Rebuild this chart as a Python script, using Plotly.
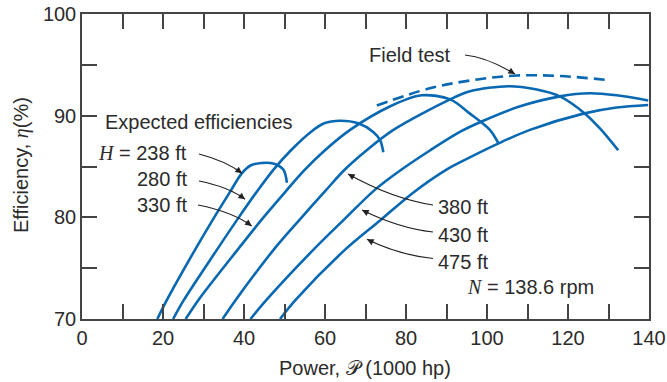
import math
import plotly.graph_objects as go

# ---------------- data ----------------
power_238 = [18.6, 21.0, 27.9, 32.2, 36.7, 39.4, 41.6, 44.4, 47.2, 49.7, 50.6]
eff_238   = [70.0, 71.9, 76.8, 79.7, 82.6, 84.3, 85.1, 85.35, 85.3, 84.7, 83.4]

power_280 = [22.5, 25.2, 33.3, 38.2, 43.3, 47.3, 51.6, 56.5, 59.8, 63.7, 68.2, 71.9, 73.6, 74.4]
eff_280   = [70.0, 71.9, 76.8, 79.7, 82.6, 84.7, 86.6, 88.4, 89.25, 89.5, 89.25, 88.4, 87.6, 86.4]

power_330 = [25.6, 28.8, 38.4, 44.2, 50.4, 54.8, 60.0, 66.2, 76.0, 83.8, 90.9, 95.8, 100.7, 102.8]
eff_330   = [70.0, 71.9, 76.8, 79.7, 82.6, 84.6, 86.6, 88.6, 90.9, 92.0, 91.6, 90.2, 88.6, 87.3]

power_380 = [34.7, 38.0, 47.3, 53.6, 60.3, 64.9, 70.3, 76.9, 90.9, 95.8, 105.3, 112.0, 118.0, 124.2, 128.0, 132.4]
eff_380   = [70.0, 71.9, 76.8, 79.7, 82.7, 84.7, 86.6, 88.6, 91.6, 92.4, 92.9, 92.6, 91.9, 90.2, 88.7, 86.6]

power_430 = [41.6, 45.6, 57.1, 64.5, 72.3, 78.9, 86.0, 93.3, 99.1, 108.0, 118.0, 125.4, 132.0, 139.8]
eff_430   = [70.0, 71.9, 76.8, 79.7, 82.7, 84.7, 86.6, 88.4, 89.5, 90.9, 91.9, 92.2, 92.0, 91.5]

power_475 = [48.9, 52.8, 64.9, 73.6, 82.0, 90.0, 93.3, 103.0, 110.6, 123.8, 132.0, 139.8]
eff_475   = [70.0, 71.9, 76.8, 79.7, 82.5, 84.7, 85.4, 87.3, 88.6, 90.2, 90.8, 91.05]

power_field = [72.8, 85.9, 96.6, 107.3, 118.0, 130.0]
eff_field   = [91.0, 92.7, 93.5, 93.95, 93.9, 93.5]

x_ticks = [0, 10, 20, 30, 40, 50, 60, 70, 80, 90, 100, 110, 120, 130, 140]
x_tick_labels = ["0", "", "20", "", "40", "", "60", "", "80", "", "100", "", "120", "", "140"]
y_ticks = [70, 75, 80, 85, 90, 95, 100]
y_tick_labels = ["70", "", "80", "", "90", "", "100"]

series = [
    (power_238, eff_238),
    (power_280, eff_280),
    (power_330, eff_330),
    (power_380, eff_380),
    (power_430, eff_430),
    (power_475, eff_475),
]

# ---------------- figure ----------------
W, H = 667, 382
L, R, T, B = 82, 18, 14, 63
PL, PR, PT, PB = L, W - R, T, H - B
XMIN, XMAX, YMIN, YMAX = 0, 140, 70, 100

def dx(px):
    return XMIN + (px - PL) / (PR - PL) * (XMAX - XMIN)

def dy(py):
    return YMAX - (py - PT) / (PB - PT) * (YMAX - YMIN)

BLUE = "#0868b2"
TXT = "#2b2b2b"
FONT = "Liberation Sans, Arial, sans-serif"

fig = go.Figure()
for xs, ys in series:
    fig.add_trace(go.Scatter(x=xs, y=ys, mode="lines",
                             line=dict(color=BLUE, width=2.6, shape="spline", smoothing=0.9),
                             showlegend=False, hoverinfo="skip"))
fig.add_trace(go.Scatter(x=power_field, y=eff_field, mode="lines",
                         line=dict(color=BLUE, width=2.6, shape="spline", smoothing=1.0,
                                   dash="11px,6px"),
                         showlegend=False, hoverinfo="skip"))

annotations = []
shapes = []

def text_at(px, py, txt, xanchor="center"):
    annotations.append(dict(x=dx(px), y=dy(py), xref="x", yref="y", text=txt,
                            showarrow=False, xanchor=xanchor, yanchor="middle",
                            font=dict(family=FONT, size=20, color=TXT)))

def curved_arrow(x0, y0, cx, cy, x1, y1):
    shapes.append(dict(type="path", xref="x", yref="y",
                       path=f"M {dx(x0)},{dy(y0)} Q {dx(cx)},{dy(cy)} {dx(x1)},{dy(y1)}",
                       line=dict(color="#222", width=1.2)))
    vx, vy = x1 - cx, y1 - cy
    n = math.hypot(vx, vy)
    ux, uy = vx / n, vy / n
    annotations.append(dict(x=dx(x1), y=dy(y1), xref="x", yref="y", text="",
                            showarrow=True, ax=-9 * ux, ay=-9 * uy,
                            arrowhead=2, arrowsize=1.1, arrowwidth=1.2,
                            arrowcolor="#222", standoff=0))

SERIF_I = "<span style='font-family:Liberation Serif, Times New Roman, serif'><i>%s</i></span>"

text_at(410, 55, "Field test")
text_at(199, 122, "Expected efficiencies")
text_at(189, 152.5, (SERIF_I % "H") + " = 238 ft", xanchor="right")
text_at(189, 179, "280 ft", xanchor="right")
text_at(189, 205, "330 ft", xanchor="right")
text_at(436, 206.5, "380 ft", xanchor="left")
text_at(436, 235, "430 ft", xanchor="left")
text_at(436, 261.5, "475 ft", xanchor="left")
text_at(465, 287, (SERIF_I % "N") + " = 138.6 rpm", xanchor="left")

curved_arrow(465, 55, 487, 57.2, 515, 74)
curved_arrow(199, 154, 226, 161, 242, 173.3)
curved_arrow(199, 181, 229, 187, 245, 199.3)
curved_arrow(198, 205, 233, 212, 251.7, 226)
curved_arrow(433, 205, 393, 199, 348, 174)
curved_arrow(433, 232, 399, 228.3, 362, 210)
curved_arrow(433, 258.5, 398, 254.8, 367, 239.3)

# axis titles
annotations.append(dict(x=(365 - PL) / (PR - PL), y=(PB - 368) / (PB - PT), xref="paper", yref="paper",
                        text="Power, <span style='font-family:DejaVu Sans'>𝒫</span> (1000 hp)",
                        showarrow=False, xanchor="center", yanchor="middle",
                        font=dict(family=FONT, size=20, color=TXT)))
annotations.append(dict(x=(22 - PL) / (PR - PL), y=(PB - 165) / (PB - PT), xref="paper", yref="paper",
                        text="Efficiency, " + (SERIF_I % "η") + "(%)", textangle=-90,
                        showarrow=False, xanchor="center", yanchor="middle",
                        font=dict(family=FONT, size=20, color=TXT)))

axis_common = dict(showgrid=False, zeroline=False, showline=True, linecolor="#444", linewidth=1.5,
                   mirror="ticks", ticks="inside", ticklen=15, tickwidth=1.5, tickcolor="#444",
                   automargin=False,
                   tickfont=dict(family=FONT, size=20, color=TXT))

fig.update_layout(
    width=W, height=H,
    margin=dict(l=L, r=R, t=T, b=B, pad=0, autoexpand=False),
    paper_bgcolor="white", plot_bgcolor="white",
    xaxis=dict(range=[XMIN, XMAX], tickmode="array", tickvals=x_ticks, ticktext=x_tick_labels, **axis_common),
    yaxis=dict(range=[YMIN, YMAX], tickmode="array", tickvals=y_ticks, ticktext=y_tick_labels, **axis_common),
    annotations=annotations, shapes=shapes,
    showlegend=False,
)

fig.write_html("out.html", config={"displayModeBar": False},
               post_script="document.body.style.margin='0px';document.body.style.overflow='hidden';")
